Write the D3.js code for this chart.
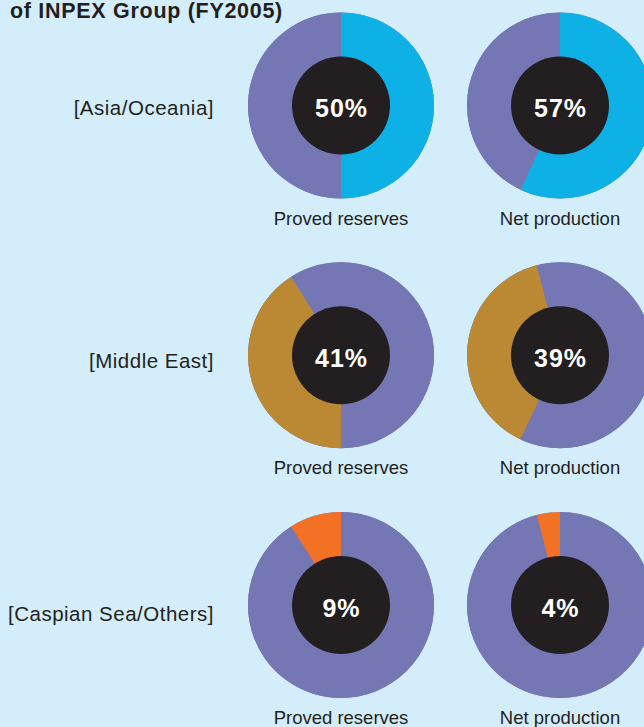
<!DOCTYPE html>
<html>
<head>
<meta charset="utf-8">
<script src="https://cdn.jsdelivr.net/npm/d3@7"></script>
<style>
  body { margin: 0; background: #d3edfa; }
  svg { display: block; }
</style>
</head>
<body>
<svg id="chart" width="644" height="727"></svg>
<script>
// Data (share of INPEX Group, FY2005)
var regions = ["Asia/Oceania", "Middle East", "Caspian Sea/Others"];
var provedReserves = [50, 41, 9];   // % of proved reserves per region
var netProduction = [57, 39, 4];    // % of net production per region
var seriesLabels = ["Proved reserves", "Net production"];
var regionColors = ["#0db1e6", "#bb8834", "#f37124"];

// Layout
var svg = d3.select("#chart"),
    width = +svg.attr("width"),
    height = +svg.attr("height");

var otherColor = "#7577b5";  // purple for the rest of the group
var holeColor = "#231f20";   // dark center
var textColor = "#231f20";

var outerR = 93, innerR = 49;

// Row / column positions
var yScale = d3.scalePoint().domain(regions).range([105.5, 605]);
var xScale = d3.scalePoint().domain(seriesLabels).range([341, 560]);
var labelOffset = [9, 13, 16]; // baseline offsets of the region labels

// Title (top part is cut off in the reference)
svg.append("text")
    .attr("x", 10)
    .attr("y", 17.5)
    .text("of INPEX Group (FY2005)")
    .style("font-family", "Liberation Sans, Arial, sans-serif")
    .style("font-weight", "bold")
    .style("font-size", "21.5px")
    .style("letter-spacing", "0.7px")
    .attr("fill", textColor);

// Pie layout: start at 12 o'clock, keep data order, clockwise
var pie = d3.pie().sort(null).value(function(d) { return d; });
var arc = d3.arc().innerRadius(0).outerRadius(outerR);

var series = [provedReserves, netProduction];

regions.forEach(function(region, ri) {
    var cy = yScale(region);

    // Region label to the left
    svg.append("text")
        .attr("x", 214)
        .attr("y", cy + labelOffset[ri])
        .attr("text-anchor", "end")
        .text("[" + region + "]")
        .style("font-family", "Liberation Sans, Arial, sans-serif")
        .style("font-size", "20.5px")
        .style("letter-spacing", "0.5px")
        .attr("fill", textColor);

    series.forEach(function(values, si) {
        var cx = xScale(seriesLabels[si]);
        var g = svg.append("g").attr("transform", "translate(" + cx + "," + cy + ")");

        // Purple base disc so seams between purple slices don't show
        g.append("circle")
            .attr("r", outerR)
            .attr("fill", otherColor);

        // Segments: highlighted region in its own colour, the rest purple
        g.selectAll("path")
            .data(pie(values))
            .enter().append("path")
            .attr("d", arc)
            .attr("fill", function(d, i) { return i === ri ? regionColors[ri] : otherColor; });

        // Dark hole
        g.append("circle")
            .attr("r", innerR)
            .attr("fill", holeColor);

        // Percentage in the middle
        g.append("text")
            .attr("x", 0.5)
            .attr("y", 11.5)
            .attr("text-anchor", "middle")
            .text(values[ri] + "%")
            .style("font-family", "Liberation Sans, Arial, sans-serif")
            .style("font-weight", "bold")
            .style("font-size", "25px")
            .style("letter-spacing", "1px")
            .attr("fill", "#ffffff");

        // Series caption under the donut
        g.append("text")
            .attr("y", 119)
            .attr("text-anchor", "middle")
            .text(seriesLabels[si])
            .style("font-family", "Liberation Sans, Arial, sans-serif")
            .style("font-size", "18.5px")
            .attr("fill", textColor);
    });
});
</script>
</body>
</html>
